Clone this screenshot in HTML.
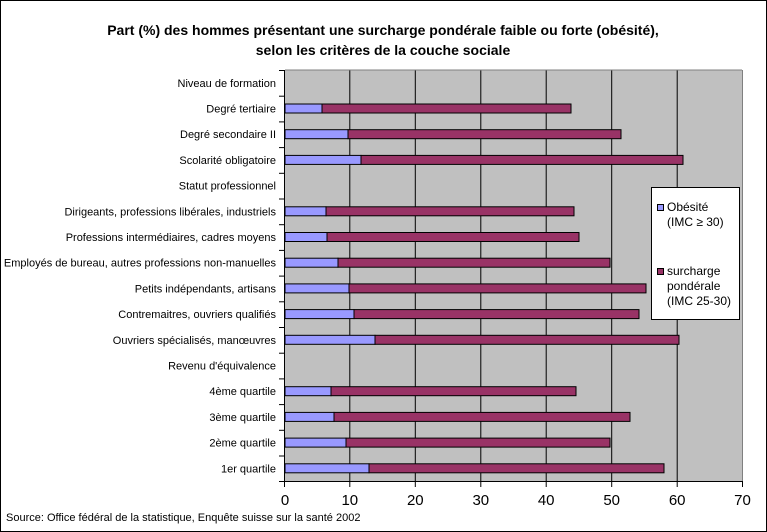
<!DOCTYPE html>
<html><head><meta charset="utf-8"><style>
html,body{margin:0;padding:0;background:#fff}
svg{display:block;font-family:"Liberation Sans",Arial,sans-serif}
</style></head><body>
<svg width="767" height="532" viewBox="0 0 767 532" xmlns="http://www.w3.org/2000/svg">
<rect x="0.5" y="0.5" width="766" height="531" fill="#fff" stroke="#000"/>
<text x="383" y="35" text-anchor="middle" font-size="14" font-weight="bold">Part (%) des hommes présentant une surcharge pondérale faible ou forte (obésité),</text>
<text x="383" y="55" text-anchor="middle" font-size="14" font-weight="bold">selon les critères de la couche sociale</text>
<rect x="285" y="70" width="457" height="411" fill="#c0c0c0"/>
<g stroke="#000" stroke-width="1">
<line x1="349.8" y1="70" x2="349.8" y2="481"/>
<line x1="415.3" y1="70" x2="415.3" y2="481"/>
<line x1="480.8" y1="70" x2="480.8" y2="481"/>
<line x1="546.2" y1="70" x2="546.2" y2="481"/>
<line x1="611.7" y1="70" x2="611.7" y2="481"/>
<line x1="677.2" y1="70" x2="677.2" y2="481"/>
<line x1="742.5" y1="70" x2="742.5" y2="481" stroke="#808080"/>
<line x1="285" y1="70" x2="742" y2="70" stroke="#808080"/>
<line x1="284.5" y1="70" x2="284.5" y2="487"/>
<line x1="279" y1="481.5" x2="742.5" y2="481.5"/>
</g>
<g stroke="#000" stroke-width="1">
<line x1="279" y1="70.5" x2="285" y2="70.5"/><line x1="279" y1="96.2" x2="285" y2="96.2"/><line x1="279" y1="121.9" x2="285" y2="121.9"/><line x1="279" y1="147.6" x2="285" y2="147.6"/><line x1="279" y1="173.3" x2="285" y2="173.3"/><line x1="279" y1="199" x2="285" y2="199"/><line x1="279" y1="224.7" x2="285" y2="224.7"/><line x1="279" y1="250.4" x2="285" y2="250.4"/><line x1="279" y1="276.1" x2="285" y2="276.1"/><line x1="279" y1="301.8" x2="285" y2="301.8"/><line x1="279" y1="327.5" x2="285" y2="327.5"/><line x1="279" y1="353.2" x2="285" y2="353.2"/><line x1="279" y1="378.9" x2="285" y2="378.9"/><line x1="279" y1="404.6" x2="285" y2="404.6"/><line x1="279" y1="430.3" x2="285" y2="430.3"/><line x1="279" y1="456" x2="285" y2="456"/>
<line x1="349.8" y1="481" x2="349.8" y2="487"/><line x1="415.3" y1="481" x2="415.3" y2="487"/><line x1="480.8" y1="481" x2="480.8" y2="487"/><line x1="546.2" y1="481" x2="546.2" y2="487"/><line x1="611.7" y1="481" x2="611.7" y2="487"/><line x1="677.2" y1="481" x2="677.2" y2="487"/><line x1="742.5" y1="481" x2="742.5" y2="487"/>
</g>
<g stroke="#000" stroke-width="1">
<rect x="285" y="104" width="37" height="9" fill="#9999ff"/><rect x="322" y="104" width="249" height="9" fill="#993366"/>
<rect x="285" y="129.7" width="63" height="9" fill="#9999ff"/><rect x="348" y="129.7" width="273" height="9" fill="#993366"/>
<rect x="285" y="155.4" width="76" height="9" fill="#9999ff"/><rect x="361" y="155.4" width="322" height="9" fill="#993366"/>
<rect x="285" y="206.8" width="41" height="9" fill="#9999ff"/><rect x="326" y="206.8" width="248" height="9" fill="#993366"/>
<rect x="285" y="232.5" width="42" height="9" fill="#9999ff"/><rect x="327" y="232.5" width="252" height="9" fill="#993366"/>
<rect x="285" y="258.2" width="53" height="9" fill="#9999ff"/><rect x="338" y="258.2" width="272" height="9" fill="#993366"/>
<rect x="285" y="283.9" width="64" height="9" fill="#9999ff"/><rect x="349" y="283.9" width="297" height="9" fill="#993366"/>
<rect x="285" y="309.6" width="69" height="9" fill="#9999ff"/><rect x="354" y="309.6" width="285" height="9" fill="#993366"/>
<rect x="285" y="335.3" width="90" height="9" fill="#9999ff"/><rect x="375" y="335.3" width="304" height="9" fill="#993366"/>
<rect x="285" y="386.7" width="46" height="9" fill="#9999ff"/><rect x="331" y="386.7" width="245" height="9" fill="#993366"/>
<rect x="285" y="412.4" width="49" height="9" fill="#9999ff"/><rect x="334" y="412.4" width="296" height="9" fill="#993366"/>
<rect x="285" y="438.1" width="61" height="9" fill="#9999ff"/><rect x="346" y="438.1" width="264" height="9" fill="#993366"/>
<rect x="285" y="463.8" width="84" height="9" fill="#9999ff"/><rect x="369" y="463.8" width="295" height="9" fill="#993366"/>
</g>
<g font-size="11" text-anchor="end">
<text x="276" y="87">Niveau de formation</text>
<text x="276" y="112.5">Degré tertiaire</text>
<text x="276" y="138.2">Degré secondaire II</text>
<text x="276" y="163.9">Scolarité obligatoire</text>
<text x="276" y="189.6">Statut professionnel</text>
<text x="276" y="215.3">Dirigeants, professions libérales, industriels</text>
<text x="276" y="241">Professions intermédiaires, cadres moyens</text>
<text x="276" y="266.7">Employés de bureau, autres professions non-manuelles</text>
<text x="276" y="292.4">Petits indépendants, artisans</text>
<text x="276" y="318.1">Contremaitres, ouvriers qualifiés</text>
<text x="276" y="343.8">Ouvriers spécialisés, manœuvres</text>
<text x="276" y="369.5">Revenu d'équivalence</text>
<text x="276" y="395.2">4ème quartile</text>
<text x="276" y="420.9">3ème quartile</text>
<text x="276" y="446.6">2ème quartile</text>
<text x="276" y="472.3">1er quartile</text>
</g>
<g font-size="15" text-anchor="middle">
<text x="285" y="505">0</text><text x="349.8" y="505">10</text><text x="415.3" y="505">20</text><text x="480.8" y="505">30</text><text x="546.2" y="505">40</text><text x="611.7" y="505">50</text><text x="677.2" y="505">60</text><text x="742.5" y="505">70</text>
</g>
<text x="6" y="521" font-size="11">Source: Office fédéral de la statistique, Enquête suisse sur la santé 2002</text>
<rect x="651.5" y="187.5" width="88" height="132" fill="#fff" stroke="#000"/>
<rect x="657.5" y="204.5" width="6" height="6" fill="#9999ff" stroke="#000"/>
<rect x="657.5" y="268.5" width="6" height="6" fill="#993366" stroke="#000"/>
<g font-size="12">
<text x="667" y="211">Obésité</text>
<text x="667" y="226">(IMC ≥ 30)</text>
<text x="667" y="275">surcharge</text>
<text x="667" y="290">pondérale</text>
<text x="667" y="305">(IMC 25-30)</text>
</g>
</svg>
</body></html>
